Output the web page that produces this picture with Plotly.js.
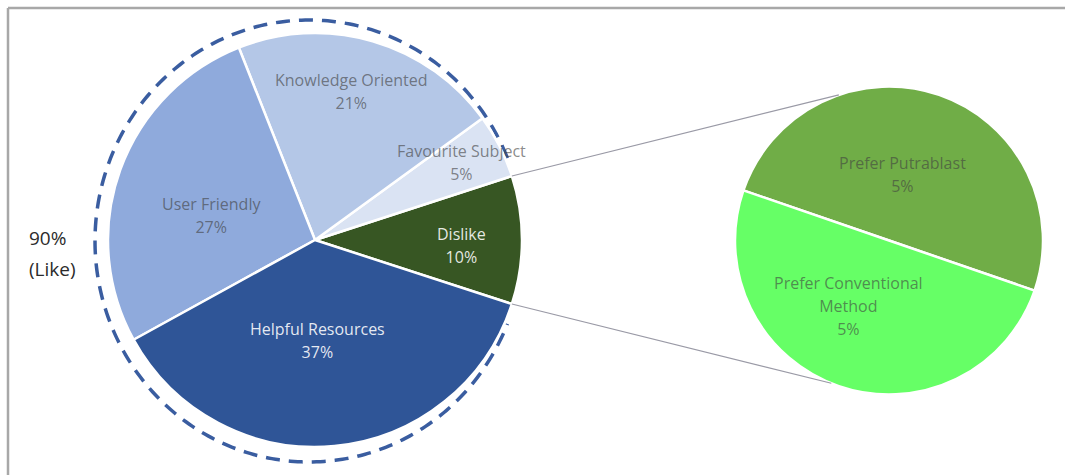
<!DOCTYPE html>
<html><head><meta charset="utf-8">
<script src="https://cdn.plot.ly/plotly-3.0.1.min.js"></script>
<style>html,body{margin:0;padding:0;background:#fff}#chart{width:1065px;height:475px}</style>
</head><body><div id="chart"></div>
<script>
// ---- data ----
const mainLabels = ['Dislike', 'Favourite Subject', 'Knowledge Oriented', 'User Friendly', 'Helpful Resources'];
const mainValues = [10, 5, 21, 27, 37];
const subLabels = ['Prefer Putrablast', 'Prefer Conventional Method'];
const subValues = [5, 5];
const likeLabel = '(Like)';

// ---- styles / layout ----
const W = 1065, H = 475;
const mainColors = ['#375623', '#DAE3F3', '#B4C7E7', '#8FAADC', '#2F5597'];
const subColors = ['#70AD47', '#66FF66'];
const mainTextColors = ['rgba(255,255,255,0.88)', 'rgba(64,64,64,0.62)', 'rgba(64,64,64,0.62)', 'rgba(64,64,64,0.62)', 'rgba(255,255,255,0.88)'];
const subTextColors = ['rgba(64,64,64,0.6)', 'rgba(64,64,64,0.6)'];
const mainLabelR = [0.71, 0.80, 0.737, 0.512, 0.488];
const mainLabelShift = [-2, 1, 2.2, 6.2, -3.7];
const subLabelR = [0.44, 0.50];
const subLabelShift = [7.9, -13];
const mainPie = {cx: 315, cy: 240, r: 207};
const subPie = {cx: 889, cy: 240.5, r: 154};
const subStartDeg = -19;           // tilt of the secondary pie
const connAngles = [109, -112];    // where connectors meet the secondary pie
const ring = {cx: 309, cy: 241, rx: 214, ry: 221, gap: 4};
const FONT = "'Open Sans', 'Noto Sans', sans-serif";

const total = mainValues.reduce((a, b) => a + b, 0);
const subTotal = subValues.reduce((a, b) => a + b, 0);
const mainStartDeg = -(mainValues[0] / total * 360) / 2; // Dislike centred on 3 o'clock
const rad = d => d * Math.PI / 180;
const px2x = p => p / W, px2y = p => 1 - p / H;
// Plotly (counterclockwise) puts the END of the first slice at "rotation"
const plotlyRotation = (start, values, tot) => 90 - (start + values[0] / tot * 360);

function mids(values, start, tot) {
  const out = []; let cum = 0;
  values.forEach(v => { out.push(start + (cum + v / 2) / tot * 360); cum += v; });
  return out;
}
function wrap(s) {
  if (s.length <= 20) return [s];
  const i = s.lastIndexOf(' ', 20);
  return [s.slice(0, i), s.slice(i + 1)];
}
function labelText(lbl, v) {
  const lines = wrap(lbl).concat([Math.round(v / total * 100) + '%']);
  return lines.map(l => '<span style="font-size:16px">' + l + '</span>').join('<br>');
}
function dom(p) {
  return {x: [px2x(p.cx - p.r), px2x(p.cx + p.r)], y: [px2y(p.cy + p.r), px2y(p.cy - p.r)]};
}

const annotations = [];
const mMid = mids(mainValues, mainStartDeg, total);
mainLabels.forEach((l, i) => {
  const a = rad(mMid[i] + mainLabelShift[i]);
  const rr = mainLabelR[i] * mainPie.r;
  annotations.push({xref: 'paper', yref: 'paper', x: px2x(mainPie.cx + rr * Math.cos(a)), y: px2y(mainPie.cy - rr * Math.sin(a)),
    text: labelText(l, mainValues[i]), showarrow: false, xanchor: 'center', yanchor: 'middle',
    font: {family: FONT, size: 17.7, color: mainTextColors[i]}});
});
const sMid = mids(subValues, subStartDeg, subTotal);
subLabels.forEach((l, i) => {
  const a = rad(sMid[i] + subLabelShift[i]);
  const rr = subLabelR[i] * subPie.r;
  annotations.push({xref: 'paper', yref: 'paper', x: px2x(subPie.cx + rr * Math.cos(a)), y: px2y(subPie.cy - rr * Math.sin(a)),
    text: labelText(l, subValues[i]), showarrow: false, xanchor: 'center', yanchor: 'middle',
    font: {family: FONT, size: 17.7, color: subTextColors[i]}});
});
const likeValue = total - mainValues[0];
annotations.push({xref: 'paper', yref: 'paper', x: px2x(27), y: px2y(238), text: likeValue + '%', showarrow: false,
  xanchor: 'left', yanchor: 'middle', font: {family: FONT, size: 19, color: '#2b2b2b'}});
annotations.push({xref: 'paper', yref: 'paper', x: px2x(27), y: px2y(269), text: likeLabel, showarrow: false,
  xanchor: 'left', yanchor: 'middle', font: {family: FONT, size: 19, color: '#2b2b2b'}});

// shapes
const shapes = [];
shapes.push({type: 'line', xref: 'paper', yref: 'paper', x0: px2x(8), x1: 1, y0: px2y(8), y1: px2y(8), line: {color: '#A8A8A8', width: 2.5}});
shapes.push({type: 'line', xref: 'paper', yref: 'paper', x0: px2x(8), x1: px2x(8), y0: 0, y1: px2y(8), line: {color: '#A8A8A8', width: 2.5}});
// dashed "Like" ring, skipping the Dislike wedge
const half = mainValues[0] / total * 360 / 2 + ring.gap;
let path = '';
for (let t = half; t <= 360 - half + 0.001; t += 1) {
  const x = px2x(ring.cx + ring.rx * Math.cos(rad(t)));
  const y = px2y(ring.cy - ring.ry * Math.sin(rad(t)));
  path += (path ? ' L' : 'M') + x.toFixed(5) + ',' + y.toFixed(5);
}
shapes.push({type: 'path', xref: 'paper', yref: 'paper', path: path, layer: 'below', line: {color: '#3A5DA0', width: 3.5, dash: '14px,9px'}});
// connectors
const edgeA = [mainStartDeg + mainValues[0] / total * 360, mainStartDeg];
edgeA.forEach((ea, i) => {
  shapes.push({type: 'line', xref: 'paper', yref: 'paper',
    x0: px2x(mainPie.cx + mainPie.r * Math.cos(rad(ea))), y0: px2y(mainPie.cy - mainPie.r * Math.sin(rad(ea))),
    x1: px2x(subPie.cx + subPie.r * Math.cos(rad(connAngles[i]))), y1: px2y(subPie.cy - subPie.r * Math.sin(rad(connAngles[i]))),
    line: {color: '#9A9AA6', width: 1.2}});
});

const traces = [
  {type: 'pie', labels: mainLabels, values: mainValues, sort: false, direction: 'counterclockwise',
   rotation: plotlyRotation(mainStartDeg, mainValues, total), marker: {colors: mainColors, line: {color: '#ffffff', width: 2.5}},
   textinfo: 'none', hoverinfo: 'label+percent', domain: dom(mainPie), showlegend: false},
  {type: 'pie', labels: subLabels, values: subValues, sort: false, direction: 'counterclockwise',
   rotation: plotlyRotation(subStartDeg, subValues, subTotal), marker: {colors: subColors, line: {color: '#ffffff', width: 2.5}},
   textinfo: 'none', hoverinfo: 'label', domain: dom(subPie), showlegend: false}
];

Plotly.newPlot('chart', traces, {
  width: W, height: H, margin: {l: 0, r: 0, t: 0, b: 0},
  paper_bgcolor: '#ffffff', plot_bgcolor: '#ffffff', showlegend: false,
  annotations: annotations, shapes: shapes
}, {displayModeBar: false, staticPlot: true});
</script></body></html>
